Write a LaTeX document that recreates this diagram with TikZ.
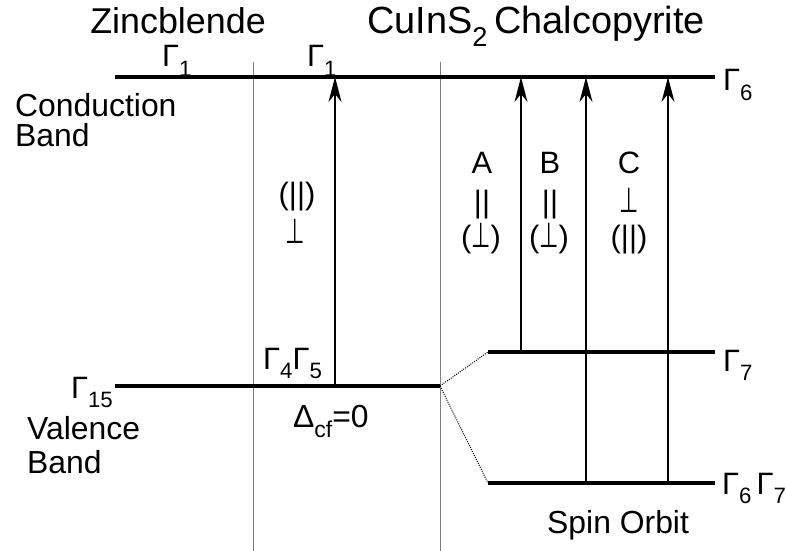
\documentclass[tikz,border=0pt]{standalone}
\usepackage{fontspec}
\usepackage{graphicx}
\setmainfont{Liberation Sans}
\newfontfamily\symfont{DejaVu Sans}
\usetikzlibrary{arrows.meta}
% lowered, reduced subscript in text
\newcommand{\lowsub}[1]{\raisebox{-0.32em}{\scalebox{0.72}{#1}}}
\newcommand{\perpsym}{{\symfont\scalebox{0.72}[1.12]{⊥}}}

\begin{document}
\begin{tikzpicture}[x=1bp,y=-1bp,
  level/.style={line width=4.2bp},
  guide/.style={line width=1bp, draw=black!50},
  trans/.style={line width=1.4bp, -{Stealth[length=25bp,width=13bp,inset=8bp]}},
  split/.style={line width=1bp, dash pattern=on 1bp off 1.2bp},
  txt/.style={inner sep=0, font=\fontsize{32}{36}\selectfont},
  ttl/.style={inner sep=0, font=\fontsize{36}{40}\selectfont},
  glab/.style={inner sep=0, font=\fontsize{31}{34}\selectfont},
  pol/.style={inner sep=0, font=\fontsize{31}{34}\selectfont, align=center},
]
\useasboundingbox (0,0) rectangle (786,551);

% end points of the levels
\coordinate (cbL) at (115,77);
\coordinate (cbR) at (715,77);
\coordinate (vbL) at (115,386);
\coordinate (vbR) at (440,386);
\coordinate (g7L) at (488,352);
\coordinate (g7R) at (715,352);
\coordinate (g67L) at (488,483);
\coordinate (g67R) at (715,483);

% column separators
\coordinate (s1t) at (253,62);
\coordinate (s1b) at (253,551);
\coordinate (s2t) at (440,62);
\coordinate (s2b) at (440,551);
\draw[guide] (s1t) -- (s1b);
\draw[guide] (s2t) -- (s2b);

% energy levels
\draw[level] (cbL) -- (cbR);
\draw[level] (vbL) -- (vbR);
\draw[level] (g7L) -- (g7R);
\draw[level] (g67L) -- (g67R);

% spin-orbit splitting
\draw[split] (vbR) -- (g7L);
\draw[split] (vbR) -- (g67L);

% transitions
\coordinate (t0b) at (335,386); \coordinate (t0t) at (335,77);
\coordinate (tAb) at (521,352); \coordinate (tAt) at (521,77);
\coordinate (tBb) at (586,483); \coordinate (tBt) at (586,77);
\coordinate (tCb) at (668,483); \coordinate (tCt) at (668,77);
\draw[trans] (t0b) -- (t0t);
\draw[trans] (tAb) -- (tAt);
\draw[trans] (tBb) -- (tBt);
\draw[trans] (tCb) -- (tCt);

% headings
\node[ttl, anchor=base] (zb) at (178,34) {Zincblende};
\node[ttl, anchor=base west, font=\fontsize{38}{40}\selectfont] (cp) at (367,34) {CuInS\lowsub{2}\hspace{0.18em}Chalcopyrite};

% band names
\node[txt, anchor=base west] (cb1) at (15,117) {Conduction};
\node[txt, anchor=base west] (cb2) at (15,147) {Band};
\node[txt, anchor=base west] (vb1) at (27,439) {Valence};
\node[txt, anchor=base west] (vb2) at (27,473) {Band};
\node[txt, anchor=base west] (dcf) at (293,427) {Δ\lowsub{cf}=0};
\node[txt, anchor=base west] (so) at (547,533) {Spin Orbit};

% symmetry labels
\node[glab, anchor=base west] (g1a) at (162,67) {Γ\lowsub{1}};
\node[glab, anchor=base west] (g1b) at (307,67) {Γ\lowsub{1}};
\node[glab, anchor=base west] (g6) at (723,91) {Γ\lowsub{6}};
\node[glab, anchor=base west] (g45) at (263,369) {Γ\lowsub{4}Γ\lowsub{5}};
\node[glab, anchor=base east] (g15) at (113,398) {Γ\lowsub{15}};
\node[glab, anchor=base west] (g7) at (723,371) {Γ\lowsub{7}};
\node[glab, anchor=base west] (g67) at (722,494) {Γ\lowsub{6}\,Γ\lowsub{7}};

% polarisation of the transitions
\node[pol, anchor=base] (p0a) at (297,205) {(||)};
\node[pol, anchor=base] (p0b) at (295,244) {\perpsym};
\node[pol, anchor=base] (pA1) at (482,174) {A};
\node[pol, anchor=base] (pA2) at (482,213) {||};
\node[pol, anchor=base] (pA3) at (481,248) {(\perpsym)};
\node[pol, anchor=base] (pB1) at (550,174) {B};
\node[pol, anchor=base] (pB2) at (550,213) {||};
\node[pol, anchor=base] (pB3) at (549,248) {(\perpsym)};
\node[pol, anchor=base] (pC1) at (629,174) {C};
\node[pol, anchor=base] (pC2) at (629,213) {\perpsym};
\node[pol, anchor=base] (pC3) at (629,248) {(||)};
\end{tikzpicture}
\end{document}
